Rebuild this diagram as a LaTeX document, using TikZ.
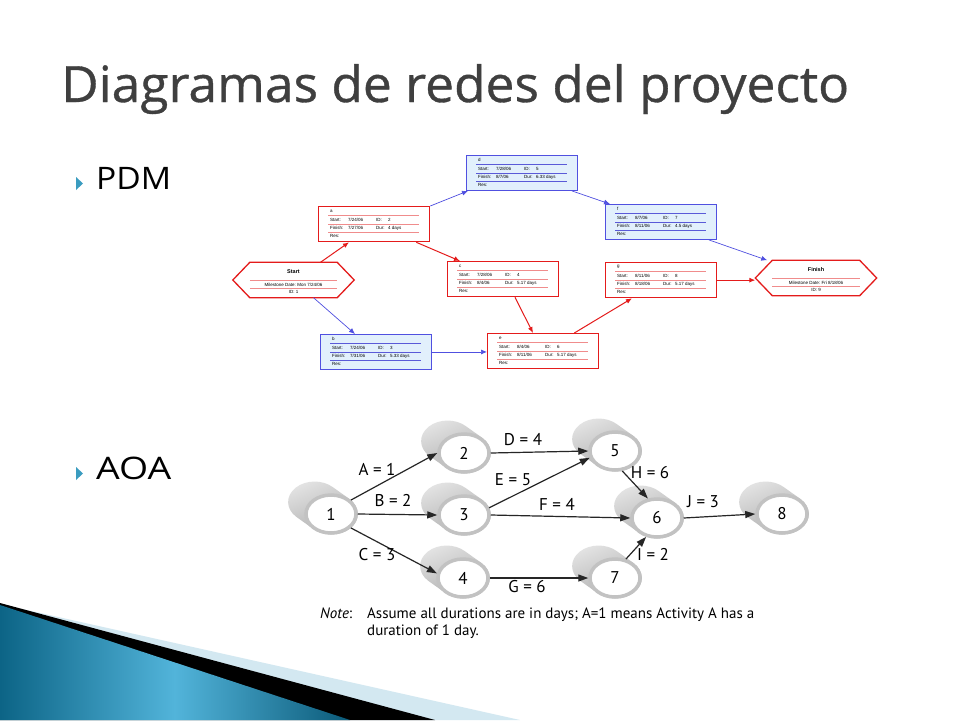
\documentclass[tikz,border=0pt]{standalone}
\usepackage{fontspec}
\usepackage{graphicx}
\usetikzlibrary{arrows.meta,calc,shapes.geometric,shadings}
\setmainfont{Open Sans}
\newfontfamily\titlefont[FakeBold=0.7]{Open Sans}
\newfontfamily\aoafont{PT Sans}
\newfontfamily\pdmfont{Liberation Sans}
\definecolor{titlegray}{HTML}{3F3F3F}
\definecolor{bulletteal}{HTML}{3A9CC0}
\definecolor{pdmred}{HTML}{E41B1B}
\definecolor{pdmredline}{HTML}{F08C8C}
\definecolor{pdmblue}{HTML}{5050E0}
\definecolor{pdmblueline}{HTML}{5A5AD8}
\definecolor{pdmbluefill}{HTML}{E2F0FC}
\definecolor{decolight}{HTML}{D3E8F1}
\definecolor{decodark}{HTML}{0C6486}
\definecolor{decomid}{HTML}{52B4DA}
\tikzset{
  pdmboxred/.style={rectangle, draw=pdmred, line width=1.3pt, fill=white, minimum width=111pt, minimum height=35pt, inner sep=0pt},
  pdmboxblue/.style={rectangle, draw=pdmblue, line width=0.9pt, fill=pdmbluefill, minimum width=111pt, minimum height=35pt, inner sep=0pt},
  pdmsepred/.style={draw=pdmredline, line width=0.8pt},
  pdmsepblue/.style={draw=pdmblueline, line width=0.8pt},
  pdmhex/.style={draw=pdmred, line width=1.3pt, fill=white},
  pdmtxt/.style={anchor=west, inner sep=0pt, font=\pdmfont\fontsize{4.5}{5}\selectfont},
  pdmarrred/.style={draw=pdmred, line width=1pt, -{Latex[length=6pt,width=5pt]}},
  pdmarrblue/.style={draw=pdmblue, line width=0.7pt, -{Latex[length=6pt,width=5pt]}},
  aoafront/.style={ellipse, minimum width=50pt, minimum height=38pt, inner sep=0pt, draw=gray!48, line width=3.5pt, fill=white, font=\aoafont\fontsize{17}{20}\selectfont},
  aoaback/.style={upper left=gray!14, upper right=gray!38, lower left=gray!55, lower right=gray!68},
  aoaarr/.style={draw=black!85, line width=1.2pt, -{Triangle[length=10pt,width=7pt]}},
  aoalbl/.style={inner sep=0pt, font=\aoafont\fontsize{17}{20}\selectfont},
  notetxt/.style={anchor=base west, inner sep=0pt, font=\aoafont\fontsize{15}{17}\selectfont},
  bullettxt/.style={anchor=base west, inner sep=0pt, font=\fontsize{31}{36}\selectfont}
}
\newcommand{\pdmbox}[9]{%
  \node[pdmbox#4, anchor=north west] (#1) at (#2,#3) {};
  \draw[pdmsep#4] ($(#1.north west)+(10,9)$) -- ($(#1.north east)+(-11,9)$);
  \draw[pdmsep#4] ($(#1.north west)+(10,18)$) -- ($(#1.north east)+(-11,18)$);
  \draw[pdmsep#4] ($(#1.north west)+(10,26)$) -- ($(#1.north east)+(-11,26)$);
  \node[pdmtxt] (#1-name) at ($(#1.north west)+(12,5)$) {#5};
  \node[pdmtxt] (#1-s) at ($(#1.north west)+(12,13.5)$) {Start:};
  \node[pdmtxt] (#1-sv) at ($(#1.north west)+(30,13.5)$) {#6};
  \node[pdmtxt] (#1-i) at ($(#1.north west)+(58,13.5)$) {ID:};
  \node[pdmtxt] (#1-iv) at ($(#1.north west)+(70,13.5)$) {#7};
  \node[pdmtxt] (#1-f) at ($(#1.north west)+(12,22)$) {Finish:};
  \node[pdmtxt] (#1-fv) at ($(#1.north west)+(30,22)$) {#8};
  \node[pdmtxt] (#1-d) at ($(#1.north west)+(58,22)$) {Dur:};
  \node[pdmtxt] (#1-dv) at ($(#1.north west)+(70,22)$) {#9};
  \node[pdmtxt] (#1-r) at ($(#1.north west)+(12,30)$) {Res:};
}
\newcommand{\milestone}[6]{%
  \node[minimum width=121pt, minimum height=35pt, inner sep=0pt] (#1) at (#2,#3) {};
  \draw[pdmhex] (#1.west) -- ($(#1.north west)+(17,0)$) -- ($(#1.north east)+(-17,0)$) -- (#1.east) -- ($(#1.south east)+(-17,0)$) -- ($(#1.south west)+(17,0)$) -- cycle;
  \draw[pdmsepred] ($(#1.west)+(17,0)$) -- ($(#1.east)+(-17,0)$);
  \draw[pdmsepred] ($(#1.west)+(17,8)$) -- ($(#1.east)+(-17,8)$);
  \node[pdmtxt, anchor=center, font=\pdmfont\bfseries\fontsize{5.5}{6}\selectfont] (#1-t) at ($(#1)+(0,-8)$) {#4};
  \node[pdmtxt, anchor=center] (#1-m) at ($(#1)+(0,4.5)$) {Milestone Date: #5};
  \node[pdmtxt, anchor=center] (#1-i) at ($(#1)+(0,12)$) {ID: #6};
}
\newcommand{\aoanode}[4]{%
  \begin{scope}[shift={(#2,#3)}]
    \shade[aoaback] (18.9,-14.7) arc [start angle=-45.7, end angle=134.3, x radius=26.5, y radius=20.5]
      -- (-34.9,2.7) arc [start angle=134.3, end angle=314.3, x radius=26.5, y radius=20.5] -- cycle;
    \node[aoafront] (#1) at (0,0) {#4};
  \end{scope}
}
\begin{document}
\begin{tikzpicture}[x=1pt,y=-1pt]
\useasboundingbox (0,0) rectangle (960,720);
\fill[white] (0,0) rectangle (960,720);

% bottom-left decoration
\fill[decolight] (0,604) -- (520,720) -- (0,720) -- cycle;
\fill[black] (0,603) -- (435,720) -- (0,720) -- cycle;
\shade[left color=decodark, right color=decodark!90!black, middle color=decomid] (0,605) -- (350,720) -- (0,720) -- cycle;

% title
\node[anchor=base west, inner sep=0pt, text=titlegray] (title) at (61,102)
  {\resizebox{788pt}{\height}{\titlefont\fontsize{50}{60}\selectfont Diagramas de redes del proyecto}};

% bullets
\fill[bulletteal] (76,177) -- (83,183.5) -- (76,190) -- cycle;
\node[bullettxt] (pdm) at (96,189) {\resizebox{75pt}{\height}{PDM}};
\fill[bulletteal] (76,467) -- (83,473.5) -- (76,480) -- cycle;
\node[bullettxt] (aoa) at (96,479) {\resizebox{75pt}{\height}{AOA}};

% PDM network
\milestone{start}{293.5}{280}{Start}{Mon 7/24/06}{1}
\milestone{finish}{816}{278}{Finish}{Fri 8/18/06}{9}
\pdmbox{a}{318}{206}{red}{a}{7/24/06}{2}{7/27/06}{4 days}
\pdmbox{d}{466}{155}{blue}{d}{7/28/06}{5}{8/7/06}{6.33 days}
\pdmbox{f}{605}{204}{blue}{f}{8/7/06}{7}{8/11/06}{4.5 days}
\pdmbox{c}{447}{261}{red}{c}{7/28/06}{4}{8/4/06}{5.17 days}
\pdmbox{g}{605}{262}{red}{g}{8/11/06}{8}{8/18/06}{5.17 days}
\pdmbox{b}{320}{334}{blue}{b}{7/24/06}{3}{7/31/06}{5.33 days}
\pdmbox{e}{487}{333}{red}{e}{8/4/06}{6}{8/11/06}{5.17 days}

\draw[pdmarrred] ($(start.north)+(27,0)$) -- ($(a.south west)+(31,0)$);
\draw[pdmarrblue] (a.north east) -- ($(d.south west)+(2,0)$);
\draw[pdmarrred] ($(a.south east)+(-14,0)$) -- ($(c.north west)+(13,0)$);
\draw[pdmarrblue] ($(d.south east)+(-6,0)$) -- ($(f.north west)+(5,0)$);
\draw[pdmarrblue] ($(f.south east)+(-8,0)$) -- ($(finish.north west)+(12,0)$);
\draw[pdmarrred] (g.east) -- (g.east -| finish.west);
\draw[pdmarrred] ($(c.south west)+(68,0)$) -- ($(e.north west)+(46,0)$);
\draw[pdmarrred] ($(e.north east)+(-25,0)$) -- ($(g.south west)+(27,0)$);
\draw[pdmarrblue] ($(start.south)+(20,0)$) -- ($(b.north west)+(35,0)$);
\draw[pdmarrblue] (b.east) -- (b.east -| e.west);

% AOA network
\aoanode{n1}{331}{514}{1}
\aoanode{n2}{464}{453}{2}
\aoanode{n3}{464}{515}{3}
\aoanode{n4}{463}{578}{4}
\aoanode{n5}{615}{451}{5}
\aoanode{n6}{657}{518}{6}
\aoanode{n7}{615}{578}{7}
\aoanode{n8}{782}{514}{8}

\draw[aoaarr] (n1.35) -- (n2.west);
\draw[aoaarr] (n1.east) -- (n3.west);
\draw[aoaarr] (n1.-35) -- (n4.170);
\draw[aoaarr] (n2.east) -- (n5.west);
\draw[aoaarr] (n3.16) -- (n5.195);
\draw[aoaarr] (n3.east) -- (n6.west);
\draw[aoaarr] (n5.-70) -- (n6.115);
\draw[aoaarr] (n4.east) -- (n7.west);
\draw[aoaarr] (n7.60) -- (n6.-120);
\draw[aoaarr] (n6.east) -- (n8.west);

\node[aoalbl] (lA) at (377,469) {A = 1};
\node[aoalbl] (lB) at (393,501) {B = 2};
\node[aoalbl] (lC) at (377,555) {C = 3};
\node[aoalbl] (lD) at (523,440) {D = 4};
\node[aoalbl] (lE) at (513,480) {E = 5};
\node[aoalbl] (lF) at (557,504) {F = 4};
\node[aoalbl] (lG) at (527,587) {G = 6};
\node[aoalbl] (lH) at (650,473) {H = 6};
\node[aoalbl] (lI) at (653,554) {I = 2};
\node[aoalbl] (lJ) at (703,502) {J = 3};

\node[notetxt] (notelbl) at (320,618) {\itshape Note\/\upshape:};
\node[notetxt] (note1) at (367,618) {Assume all durations are in days; A=1 means Activity A has a};
\node[notetxt] (note2) at (367,635) {duration of 1 day.};
\end{tikzpicture}
\end{document}
